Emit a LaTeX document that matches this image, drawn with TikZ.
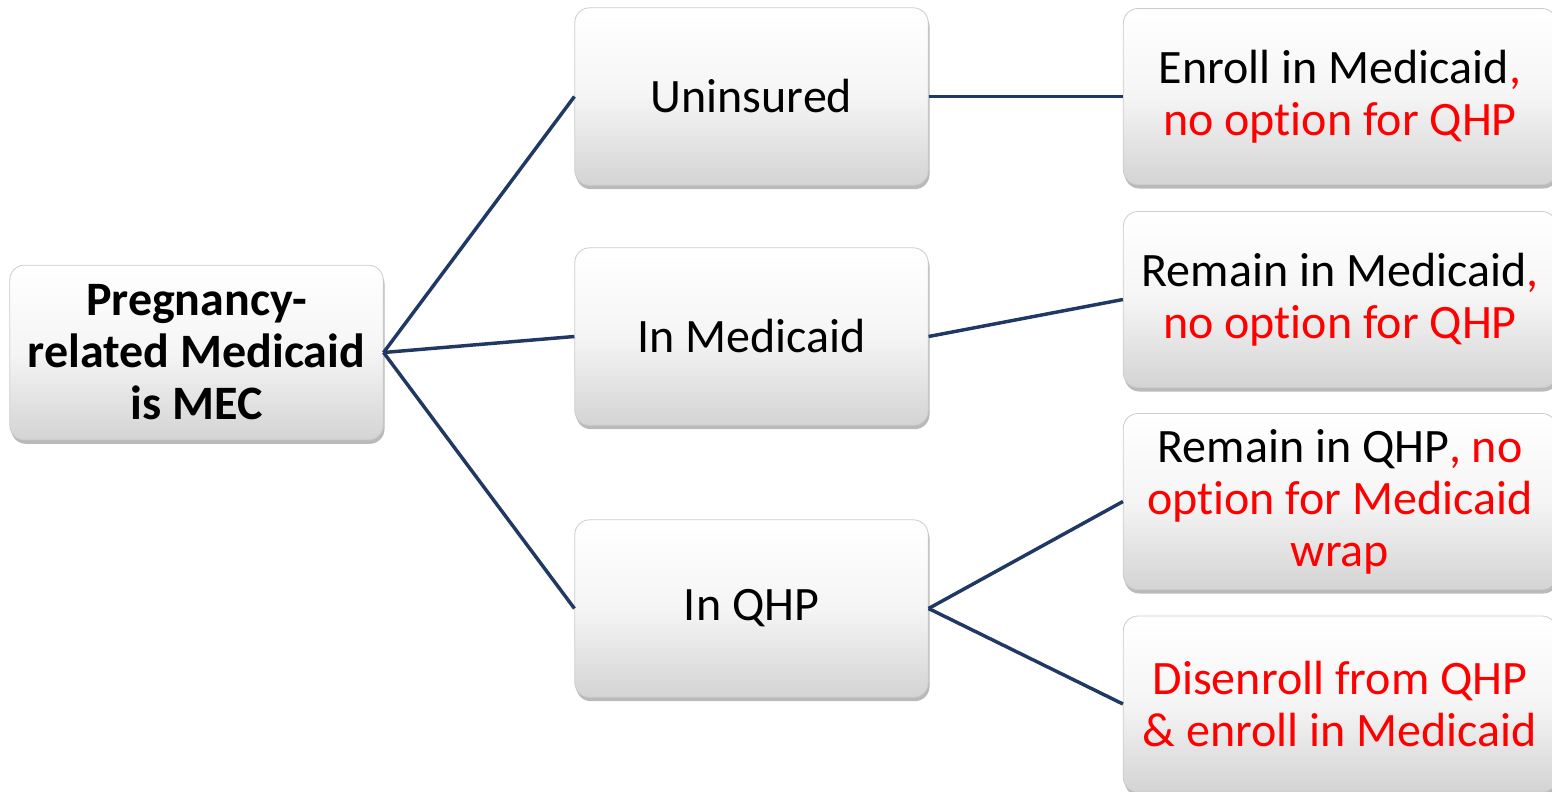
\documentclass[tikz,border=0pt]{standalone}
\usepackage{fontspec}
\setmainfont{Carlito}[RawFeature={-liga;-clig;-calt;-dlig}]
\usepackage{tikz}
\usetikzlibrary{shapes.misc,shadows}

\definecolor{linknavy}{RGB}{31,56,100}
\definecolor{optred}{RGB}{255,0,0}

\tikzset{
  box/.style={rectangle, rounded corners=11pt, draw=black!20, line width=0.6pt,
    top color=white, bottom color=black!17, middle color=black!4,
    drop shadow={shadow xshift=1pt, shadow yshift=-3pt, opacity=0.45, fill=black!60},
    align=center, inner sep=2pt, font=\fontsize{36}{39}\selectfont},
  rootbox/.style={box, minimum width=280pt, minimum height=131pt, font=\fontsize{36}{39}\selectfont\bfseries},
  midbox/.style={box, minimum width=265pt, minimum height=133pt},
  endbox/.style={box, minimum width=325pt, minimum height=132pt},
  link/.style={draw=linknavy, line width=2.6pt}
}

\begin{document}
\begin{tikzpicture}[x=0.75pt,y=0.75pt,yscale=-1,xscale=1]
\useasboundingbox (0,0) rectangle (1552,792);

% first column
\node [rootbox] (mec) at (196.5,352.5) {Pregnancy-\\related Medicaid\\is MEC};

% second column
\node [midbox] (unins) at (751.5,96.5) {Uninsured};
\node [midbox] (inmcd) at (751.5,336.5) {In Medicaid};
\node [midbox] (inqhp) at (751.5,608.5) {In QHP};

% third column
\node [endbox] (enroll) at (1340,96.5) {Enroll in Medicaid\textcolor{optred}{,}\\\textcolor{optred}{no option for QHP}};
\node [endbox] (remmcd) at (1340,299.5) {Remain in Medicaid\textcolor{optred}{,}\\\textcolor{optred}{no option for QHP}};
\node [endbox] (remqhp) at (1340,501.5) {Remain in QHP\textcolor{optred}{, no}\\\textcolor{optred}{option for Medicaid}\\\textcolor{optred}{wrap}};
\node [endbox] (disen) at (1340,704) {\textcolor{optred}{Disenroll from QHP}\\\textcolor{optred}{\& enroll in Medicaid}};

% links
\draw [link] (mec.east) -- (unins.west);
\draw [link] (mec.east) -- (inmcd.west);
\draw [link] (mec.east) -- (inqhp.west);
\draw [link] (unins.east) -- (enroll.west);
\draw [link] (inmcd.east) -- (remmcd.west);
\draw [link] (inqhp.east) -- (remqhp.west);
\draw [link] (inqhp.east) -- (disen.west);

\end{tikzpicture}
\end{document}
